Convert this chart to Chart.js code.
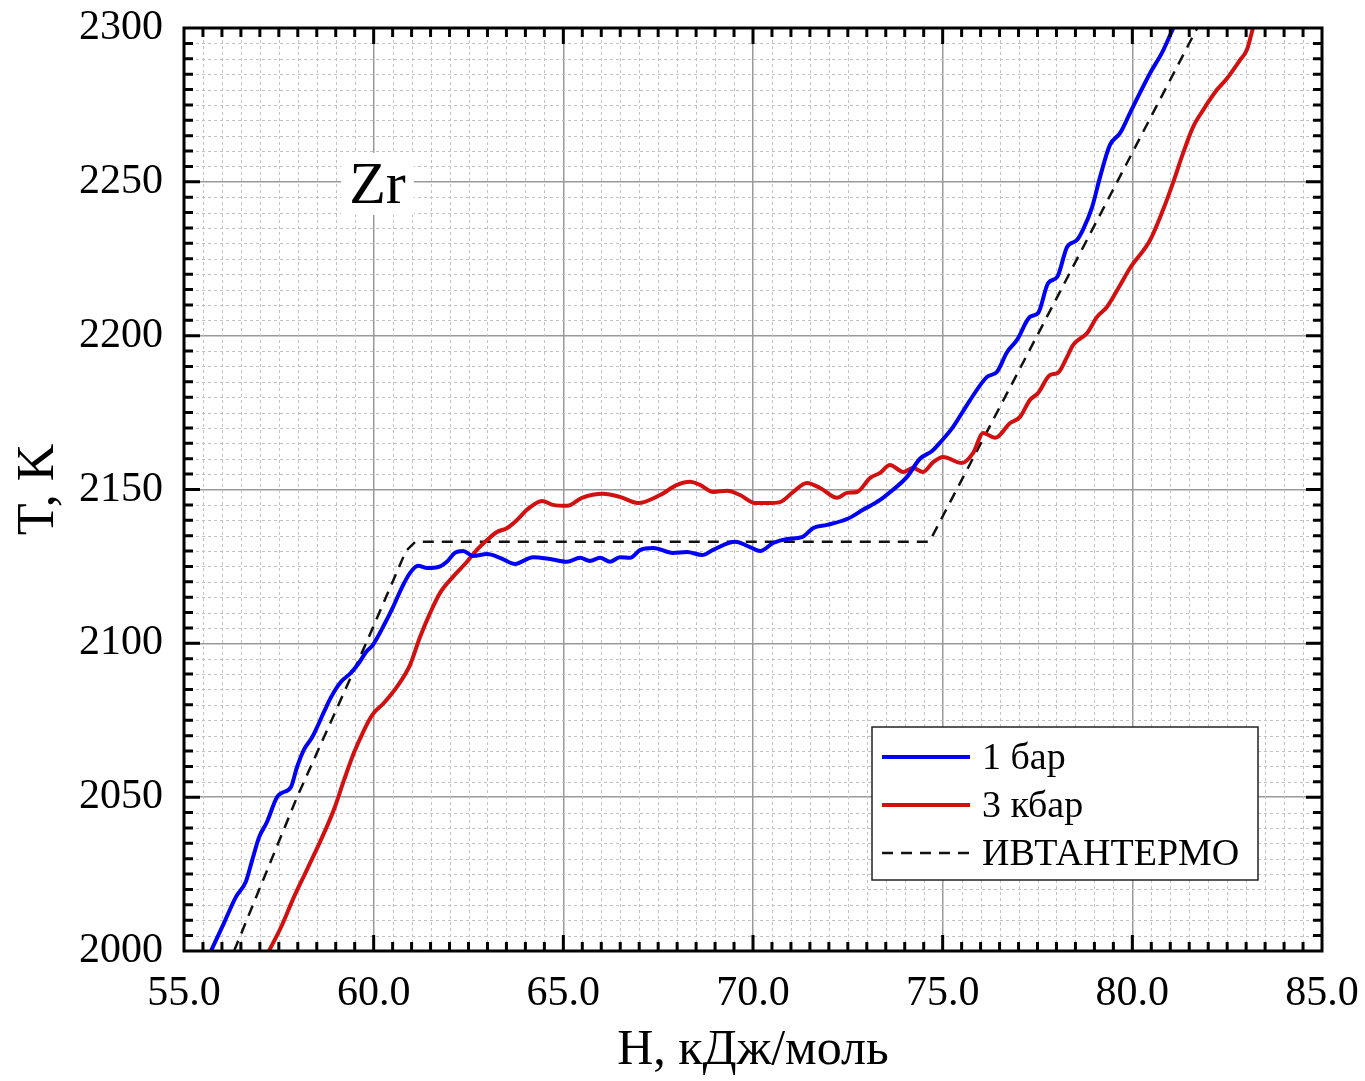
<!DOCTYPE html>
<html>
<head>
<meta charset="utf-8">
<script src="https://cdn.jsdelivr.net/npm/chart.js@4"></script>
<style>
  html, body { margin: 0; padding: 0; background: #fff; }
  #wrap { width: 1365px; height: 1081px; }
</style>
</head>
<body>
<div id="wrap"><canvas id="zrChart" width="1365" height="1081"></canvas></div>
<script>
// Энтальпия H (кДж/моль) и температура T (K), 1 бар
const h1bar = [55.71, 56.05, 56.37, 56.63, 56.80, 56.98, 57.19, 57.45, 57.58, 57.82, 57.98, 58.16, 58.37, 58.51, 58.69, 58.88, 59.14, 59.40, 59.61, 59.80, 59.98, 60.30, 60.51, 60.75, 60.96, 61.17, 61.41, 61.70, 61.93, 62.14, 62.36, 62.62, 62.99, 63.33, 63.73, 64.20, 64.65, 65.10, 65.44, 65.70, 65.97, 66.23, 66.49, 66.76, 67.02, 67.37, 67.89, 68.26, 68.66, 68.95, 69.53, 69.92, 70.19, 70.53, 70.90, 71.29, 71.59, 71.95, 72.48, 72.90, 73.35, 73.69, 74.06, 74.40, 74.72, 74.95, 75.27, 75.72, 76.17, 76.43, 76.70, 76.96, 77.30, 77.52, 77.78, 78.02, 78.28, 78.54, 78.70, 78.94, 79.15, 79.41, 79.68, 79.94, 80.20, 80.47, 80.78, 81.08]
const t1bar = [2000, 2009, 2017.6, 2022.5, 2029.6, 2037, 2042, 2050, 2051.4, 2053.3, 2059.8, 2065.4, 2069.3, 2072.8, 2077.7, 2082.6, 2087.5, 2090.4, 2093.6, 2097.2, 2099.5, 2106.6, 2111.8, 2118.3, 2122.9, 2125.2, 2124.5, 2124.8, 2126.5, 2129.4, 2130, 2128.4, 2129, 2127.8, 2125.8, 2128, 2127.4, 2126.5, 2127.8, 2126.8, 2127.8, 2126.5, 2128, 2127.8, 2130.3, 2131, 2129.4, 2129.7, 2128.7, 2130.4, 2133, 2131.3, 2130, 2132.6, 2133.9, 2134.5, 2137.5, 2138.5, 2140.4, 2143.4, 2146.6, 2149.9, 2154.1, 2160, 2162.5, 2165.5, 2170.3, 2179, 2186.6, 2188.2, 2194.7, 2198.6, 2206.1, 2207.4, 2217.1, 2219.1, 2228.8, 2231.1, 2234.5, 2241.8, 2251.6, 2262, 2265.9, 2272.4, 2278.9, 2285.4, 2291.9, 2300]

// 3 кбар
const h3kbar = [57.24, 57.56, 57.90, 58.24, 58.61, 58.95, 59.22, 59.48, 59.75, 59.96, 60.27, 60.62, 60.96, 61.22, 61.49, 61.75, 62.09, 62.46, 62.72, 62.99, 63.25, 63.52, 63.78, 64.04, 64.44, 64.73, 65.10, 65.49, 66.05, 66.49, 66.97, 67.55, 68.00, 68.34, 68.60, 68.95, 69.32, 69.66, 70.05, 70.37, 70.71, 71.06, 71.42, 71.77, 72.22, 72.48, 72.74, 73.09, 73.35, 73.61, 73.96, 74.22, 74.48, 74.75, 75.01, 75.51, 75.80, 76.07, 76.38, 76.78, 77.04, 77.30, 77.52, 77.83, 78.04, 78.28, 78.44, 78.81, 79.07, 79.33, 79.68, 79.94, 80.47, 80.81, 81.07, 81.34, 81.60, 81.87, 82.23, 82.50, 82.84, 83.02, 83.18]
const t3kbar = [2000, 2007.8, 2017.6, 2026.4, 2036.1, 2045.9, 2055.6, 2064.4, 2071.9, 2076.7, 2080.6, 2086, 2093, 2102, 2109.9, 2116.4, 2121.6, 2126.5, 2130.4, 2133.6, 2136.2, 2137.5, 2140.1, 2143.4, 2146.3, 2145, 2144.7, 2147.3, 2148.6, 2147.6, 2145.6, 2148.2, 2151.5, 2152.5, 2151.5, 2149.2, 2149.6, 2148.2, 2145.6, 2145.6, 2145.9, 2149.2, 2152.1, 2150.5, 2147.3, 2148.9, 2149.2, 2153.8, 2155.4, 2158, 2155.7, 2157, 2155.7, 2158.9, 2160.6, 2158.6, 2161.8, 2168.4, 2166.8, 2171.6, 2173.6, 2179.1, 2181.4, 2187.2, 2187.9, 2193.1, 2197, 2200.9, 2206.1, 2209.3, 2216.5, 2222, 2231.1, 2240.9, 2249.6, 2259.4, 2267.8, 2273.4, 2279.9, 2283.7, 2289.6, 2292.9, 2300]

// ИВТАНТЕРМО
const hRef = [56.32, 57.98, 59.80, 60.85, 61.10, 74.65, 75.54, 77.49, 81.71]
const tRef = [2000, 2050, 2100, 2130, 2133, 2133, 2154, 2200, 2300]

const xTicks = [55, 60, 65, 70, 75, 80, 85]
const yTicks = [2000, 2050, 2100, 2150, 2200, 2250, 2300]

const seriesNames = ["1 бар", "3 кбар", "ИВТАНТЕРМО"]
const seriesColors = ["rgb(0, 0, 245)", "rgb(210, 16, 16)", "#111"]

const serif = "'Liberation Serif', 'Times New Roman', serif"

function toPoints(xs, ys) {
  return xs.map((x, i) => ({ x: x, y: ys[i] }))
}

// сетка, рамка с внутренними засечками, подпись Zr и легенда
const framePlugin = {
  id: "frame",
  beforeDatasetsDraw(chart) {
    const { ctx, chartArea: a, scales } = chart
    const x = scales.x, y = scales.y
    ctx.save()
    ctx.strokeStyle = "#c2c2c2"
    ctx.lineWidth = 1
    ctx.setLineDash([3, 3])
    for (let v = 55.5; v < 85; v += 0.5) {
      if (Math.abs(v % 5) < 1e-6) continue
      const px = Math.round(x.getPixelForValue(v)) + 0.5
      ctx.beginPath(); ctx.moveTo(px, a.top); ctx.lineTo(px, a.bottom); ctx.stroke()
    }
    for (let v = 2005; v < 2300; v += 5) {
      if (v % 50 === 0) continue
      const py = Math.round(y.getPixelForValue(v)) + 0.5
      ctx.beginPath(); ctx.moveTo(a.left, py); ctx.lineTo(a.right, py); ctx.stroke()
    }
    ctx.setLineDash([])

    // Zr
    ctx.font = "60px " + serif
    ctx.textAlign = "center"
    ctx.textBaseline = "middle"
    const zx = x.getPixelForValue(60.1), zy = y.getPixelForValue(2249)
    const zw = ctx.measureText("Zr").width
    ctx.fillStyle = "#fff"
    ctx.fillRect(zx - zw / 2 - 8, zy - 32, zw + 16, 62)
    ctx.fillStyle = "#000"
    ctx.fillText("Zr", zx, zy + 2)
    ctx.restore()
  },
  afterDatasetsDraw(chart) {
    const { ctx, chartArea: a, scales } = chart
    const x = scales.x, y = scales.y
    ctx.save()

    // рамка
    ctx.strokeStyle = "#000"
    ctx.lineWidth = 3
    ctx.strokeRect(a.left, a.top, a.right - a.left, a.bottom - a.top)

    // засечки внутрь на всех сторонах
    ctx.lineWidth = 3
    for (let v = 55.5; v < 85; v += 0.5) {
      const major = Math.abs(v % 5) < 1e-6
      const len = major ? 16 : 9
      const px = x.getPixelForValue(v)
      ctx.beginPath()
      ctx.moveTo(px, a.bottom); ctx.lineTo(px, a.bottom - len)
      ctx.moveTo(px, a.top); ctx.lineTo(px, a.top + len)
      ctx.stroke()
    }
    for (let v = 2005; v < 2300; v += 5) {
      const major = v % 50 === 0
      const len = major ? 16 : 9
      const py = y.getPixelForValue(v)
      ctx.beginPath()
      ctx.moveTo(a.left, py); ctx.lineTo(a.left + len, py)
      ctx.moveTo(a.right, py); ctx.lineTo(a.right - len, py)
      ctx.stroke()
    }

    // легенда
    const lx = 872, ly = 727, lw = 386, lh = 153
    ctx.fillStyle = "#fff"
    ctx.fillRect(lx, ly, lw, lh)
    ctx.strokeStyle = "#222"
    ctx.lineWidth = 1.5
    ctx.strokeRect(lx, ly, lw, lh)
    ctx.font = "38px " + serif
    ctx.textAlign = "left"
    ctx.textBaseline = "middle"
    chart.data.datasets.forEach((ds, i) => {
      const ry = ly + 30 + i * 48
      ctx.strokeStyle = ds.borderColor
      ctx.lineWidth = ds.borderWidth
      ctx.setLineDash(ds.borderDash || [])
      ctx.beginPath(); ctx.moveTo(lx + 10, ry); ctx.lineTo(lx + 98, ry); ctx.stroke()
      ctx.setLineDash([])
      ctx.fillStyle = "#000"
      ctx.fillText(ds.label, lx + 110, ry + 2)
    })
    ctx.restore()
  }
}

function createChart() {
  const canvas = document.getElementById("zrChart")
  new Chart(canvas.getContext("2d"), {
    type: "scatter",
    data: {
      datasets: [
        {
          label: seriesNames[0],
          data: toPoints(h1bar, t1bar),
          showLine: true,
          borderColor: seriesColors[0],
          borderWidth: 4,
          pointRadius: 0,
          cubicInterpolationMode: "monotone",
        },
        {
          label: seriesNames[1],
          data: toPoints(h3kbar, t3kbar),
          showLine: true,
          borderColor: seriesColors[1],
          borderWidth: 4,
          pointRadius: 0,
          cubicInterpolationMode: "monotone",
        },
        {
          label: seriesNames[2],
          data: toPoints(hRef, tRef),
          showLine: true,
          borderColor: seriesColors[2],
          borderWidth: 2.5,
          borderDash: [11, 8],
          pointRadius: 0,
          tension: 0,
        },
      ],
    },
    options: {
      responsive: false,
      animation: false,
      layout: { padding: { top: 28, right: 43, left: 0, bottom: 0 } },
      plugins: {
        legend: { display: false },
        tooltip: { enabled: false },
      },
      scales: {
        x: {
          type: "linear",
          min: 55,
          max: 85,
          afterBuildTicks: (scale) => { scale.ticks = xTicks.map((v) => ({ value: v })) },
          afterFit: (scale) => {
            scale.height = 130
            scale.paddingLeft = 0
            scale.paddingRight = 0
          },
          ticks: {
            callback: (v) => v.toFixed(1),
            font: { family: serif, size: 42 },
            color: "#000",
            padding: 18,
            maxRotation: 0,
          },
          grid: { color: "#9a9a9a", lineWidth: 1.5, drawTicks: false },
          border: { display: false },
          title: {
            display: true,
            text: "H, кДж/моль",
            font: { family: serif, size: 50 },
            color: "#000",
            padding: { top: 0, bottom: 0 },
          },
        },
        y: {
          type: "linear",
          min: 2000,
          max: 2300,
          afterBuildTicks: (scale) => { scale.ticks = yTicks.map((v) => ({ value: v })) },
          afterFit: (scale) => {
            scale.width = 184
            scale.paddingTop = 0
            scale.paddingBottom = 0
          },
          ticks: {
            callback: (v) => String(v),
            font: { family: serif, size: 42 },
            color: "#000",
            padding: 21,
          },
          grid: { color: "#9a9a9a", lineWidth: 1.5, drawTicks: false },
          border: { display: false },
          title: {
            display: true,
            text: "T, K",
            font: { family: serif, size: 52 },
            color: "#000",
            padding: { top: 8, bottom: 0 },
          },
        },
      },
    },
    plugins: [framePlugin],
  })
}

document.addEventListener("DOMContentLoaded", createChart)
</script>
</body>
</html>
